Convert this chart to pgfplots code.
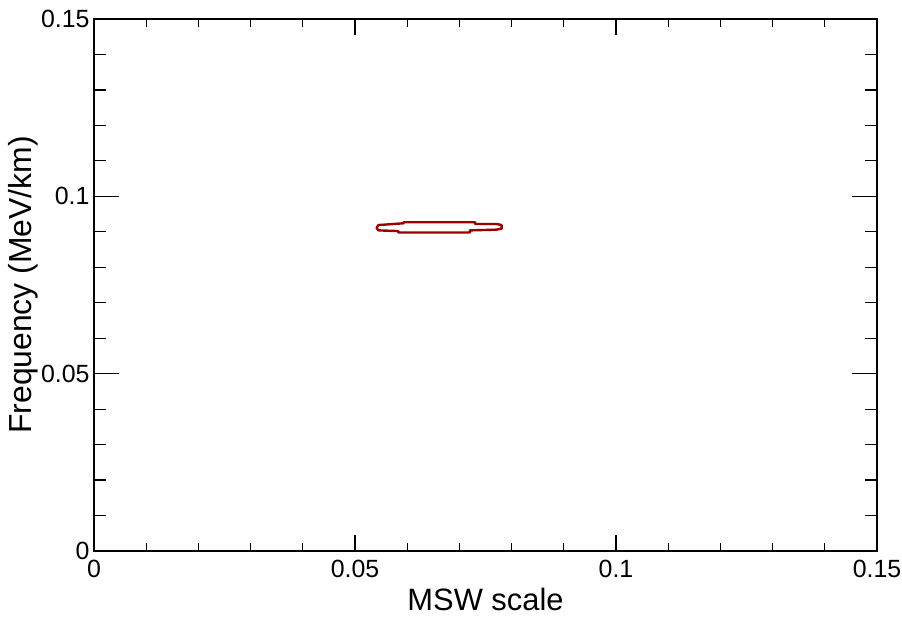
\documentclass[border=0pt]{standalone}
\usepackage{pgfplots}
\pgfplotsset{compat=1.18}
\usepackage{fontspec}
\setmainfont{Liberation Sans}
\definecolor{contourred}{RGB}{153,0,0}
\begin{document}
\begin{tikzpicture}
\begin{axis}[
  scale only axis,
  width=783bp, height=532bp,
  xmin=0, xmax=0.15, ymin=0, ymax=0.15,
  axis line style={line width=2bp},
  xtick={0,0.05,0.1,0.15},
  xticklabels={0,0.05,0.1,0.15},
  ytick={0,0.05,0.1,0.15},
  yticklabels={0,0.05,0.1,0.15},
  minor tick num=4,
  tick align=inside,
  xtick pos=both, ytick pos=both,
  tick style={line width=1.2bp, black},
  xtick style={/pgfplots/major tick length=16bp,/pgfplots/minor tick length=8bp},
  ytick style={/pgfplots/major tick length=25bp,/pgfplots/minor tick length=12.5bp},
  /pgf/number format/assume math mode=true,
  xticklabel style={font=\fontsize{25}{30}\selectfont, yshift=-6bp},
  yticklabel style={font=\fontsize{25}{30}\selectfont, xshift=-1bp},
  xlabel={MSW scale},
  ylabel={Frequency (MeV/km)},
  xlabel style={font=\fontsize{31}{36}\selectfont, at={(axis description cs:0.5,0)}, anchor=base, yshift=-59bp},
  ylabel style={font=\fontsize{32}{36}\selectfont, at={(axis description cs:-0.0907,0.5)}, anchor=center},
]
\addplot[color=contourred, line width=2.4bp, line join=round] coordinates {
(0.0541,0.0911)
(0.0545,0.0919)
(0.0593,0.0924)
(0.0593,0.0927)
(0.0730,0.0927)
(0.0730,0.0922)
(0.0771,0.0922)
(0.0781,0.0919)
(0.0781,0.0909)
(0.0771,0.0906)
(0.0720,0.0904)
(0.0720,0.0898)
(0.0583,0.0898)
(0.0583,0.0902)
(0.0545,0.0904)
(0.0541,0.0911)
};
\end{axis}
\pgfresetboundingbox
\path (current axis.south west) ++(-94bp,-66bp) coordinate (bbA);
\path (current axis.north east) ++(25bp,19bp) coordinate (bbB);
\useasboundingbox (bbA) rectangle (bbB);
\end{tikzpicture}
\end{document}
